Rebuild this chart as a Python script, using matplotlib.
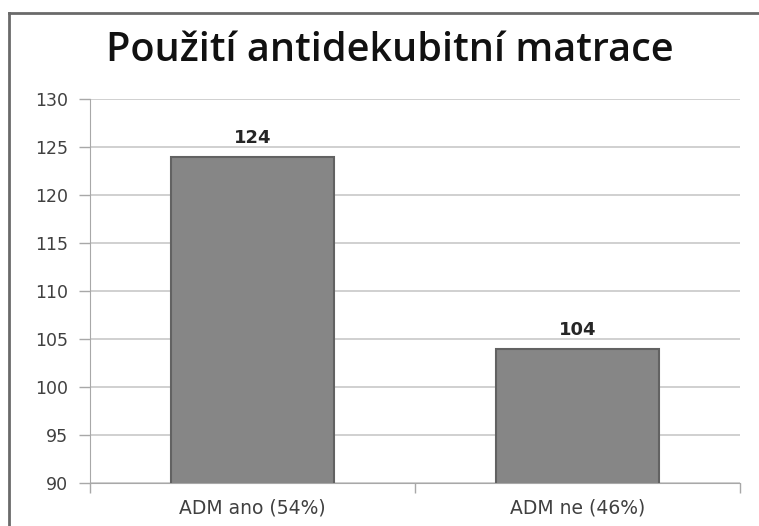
import matplotlib.pyplot as plt
from matplotlib.lines import Line2D

# data
categories = ['ADM ano (54%)', 'ADM ne (46%)']
values = [124, 104]
y_ticks = [90, 95, 100, 105, 110, 115, 120, 125, 130]

fig = plt.figure(figsize=(7.59, 5.26), dpi=100)
ax = fig.add_axes([0.1186, 0.0817, 0.8564, 0.7301])

x = range(len(categories))
bars = ax.bar(x, values, width=0.5, color='#868686', edgecolor='#626262',
              linewidth=1.5, zorder=3)

ax.set_xlim(-0.5, 1.5)
ax.set_ylim(90, 130)
ax.set_yticks(y_ticks)
ax.set_yticklabels([str(t) for t in y_ticks])
ax.set_xticks([-0.5, 0.5, 1.5], minor=False)
ax.set_xticklabels(['', '', ''])
ax.set_xticks(list(x), minor=True)
ax.set_xticklabels(categories, minor=True)

ax.grid(axis='y', color='#c8c8c8', linewidth=1.2, zorder=0)
for s in ['top', 'right']:
    ax.spines[s].set_visible(False)
ax.spines['left'].set_color('#a8a8a8')
ax.spines['bottom'].set_color('#a8a8a8')

ax.tick_params(axis='y', length=8, width=1, color='#a8a8a8',
               labelsize=12.5, labelcolor='#404040', pad=8)
ax.tick_params(axis='x', which='major', length=7, width=1, color='#a8a8a8',
               direction='out')
ax.tick_params(axis='x', which='minor', length=0, labelsize=13.5,
               labelcolor='#404040', pad=11)

# value labels
for i, v in enumerate(values):
    ax.text(i, v + 1.0, str(v), ha='center', va='bottom',
            fontsize=13, fontweight='bold', color='#262626')

fig.text(0.513, 0.903, 'Použití antidekubitní matrace', ha='center',
         va='center', fontsize=28.5, fontweight='semibold', family='Open Sans',
         color='#111111')

# chart area frame
fig.add_artist(Line2D([9 / 759, 9 / 759], [0, 1 - 13 / 526],
                      color='#6a6a6a', linewidth=2, transform=fig.transFigure))
fig.add_artist(Line2D([9 / 759, 1], [1 - 13 / 526, 1 - 13 / 526],
                      color='#6a6a6a', linewidth=2, transform=fig.transFigure))

fig.savefig('out.png', dpi=100)
